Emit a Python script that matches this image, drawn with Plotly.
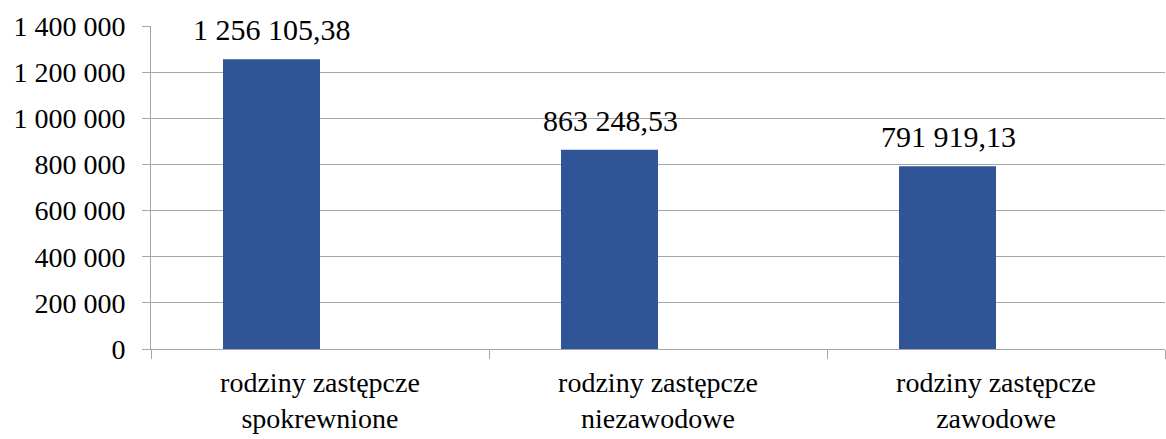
import plotly.graph_objects as go

categories = ["rodziny zastępcze<br>spokrewnione", "rodziny zastępcze<br>niezawodowe", "rodziny zastępcze<br>zawodowe"]
values = [1256105.38, 863248.53, 791919.13]
value_labels = ["1 256 105,38", "863 248,53", "791 919,13"]
y_tickvals = [0, 200000, 400000, 600000, 800000, 1000000, 1200000, 1400000]
y_ticktext = ["0", "200 000", "400 000", "600 000", "800 000", "1 000 000", "1 200 000", "1 400 000"]

FONT = "'Times New Roman', 'Liberation Serif', serif"
GRID = "#A6A6A6"
BAR = "#2F5597"
BAR_W = 0.287

fig = go.Figure()
fig.add_trace(go.Bar(x=categories, y=values, marker=dict(color=BAR, line=dict(width=0)),
                     width=BAR_W, offset=-BAR_W, hoverinfo="skip"))

for c, v, t in zip(categories, values, value_labels):
    fig.add_annotation(x=c, y=v, text=t, showarrow=False, yanchor="bottom", yshift=11,
                       xshift=-48,
                       font=dict(family=FONT, size=30, color="#000000"))

fig.update_layout(
    width=1166, height=439,
    margin=dict(l=151, r=1, t=26, b=90, autoexpand=False),
    paper_bgcolor="white", plot_bgcolor="white",
    showlegend=False,
    font=dict(family=FONT, color="#000000"),
)
fig.update_xaxes(
    automargin=False,
    showline=True, linecolor=GRID, linewidth=1,
    ticks="outside", tickson="boundaries", ticklen=9, tickcolor=GRID, tickwidth=1,
    tickfont=dict(family=FONT, size=28, color="#000000"),
    ticklabelstandoff=8,
    showgrid=False,
)
fig.update_yaxes(
    automargin=False,
    range=[0, 1400000], tickvals=y_tickvals, ticktext=y_ticktext,
    showline=True, linecolor=GRID, linewidth=1,
    ticks="outside", ticklen=8, tickcolor=GRID, tickwidth=1,
    showgrid=True, gridcolor=GRID, gridwidth=1,
    zeroline=False,
    tickfont=dict(family=FONT, size=28, color="#000000"),
    ticklabelstandoff=11,
)

fig.write_html("out.html", config={"displayModeBar": False},
               post_script="document.body.style.margin='0';document.body.style.padding='0';")
